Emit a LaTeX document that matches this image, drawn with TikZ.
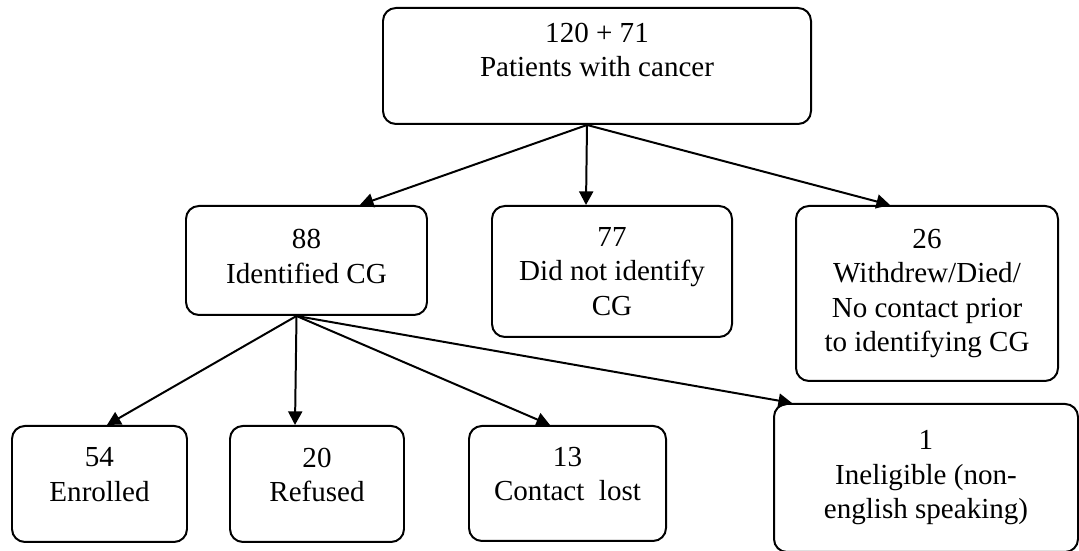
\documentclass[tikz,border=0pt]{standalone}
\usepackage{fontspec}
\setmainfont{Liberation Serif}
\usepackage{tikz}
\usetikzlibrary{shapes,positioning,arrows.meta}

\begin{document}
\begin{tikzpicture}[font=\fontsize{12.4}{14.7}\selectfont,line width=0.85pt,
    >={Triangle[length=5.8pt,width=6pt]},
    box/.style={draw, rounded corners=5.5pt, align=center}]

\useasboundingbox (0,0) rectangle (16.185,-8.265);

\node[box,
    minimum width=6.42cm,
    minimum height=1.74cm,
    text depth=14pt
] (block1) at (8.955,-0.99) { 120 + 71\\Patients with cancer };

\node[box,
    below=1.2cm of block1,
    xshift=-4.3575cm,
    minimum width=3.615cm,
    minimum height=1.635cm,
    text depth=3.5pt
] (block2) { 88\\Identified CG };

\node[box,
    below=1.2cm of block1,
    xshift=0.225cm,
    minimum width=3.6cm,
    minimum height=1.965cm
] (block2N) { 77\\Did not identify\\CG };

\node[box,
    below=1.2cm of block1,
    xshift=4.95cm,
    minimum width=3.93cm,
    minimum height=2.625cm
] (block2W) { 26\\Withdrew/Died/\\No contact prior\\to identifying CG };

\node[box,
    below=1.635cm of block2,
    xshift=-3.105cm,
    minimum width=2.625cm,
    minimum height=1.74cm,
    text depth=8pt
] (block3E) { 54\\Enrolled };

\node[box,
    below=1.635cm of block2,
    xshift=0.1575cm,
    minimum width=2.61cm,
    minimum height=1.74cm,
    text depth=8pt
] (block3R) { 20\\Refused };

\node[box,
    below=1.635cm of block2,
    xshift=3.915cm,
    minimum width=2.955cm,
    minimum height=1.725cm,
    text depth=8pt
] (block3C) { 13\\Contact\ \ lost };

\node[box,
    below=1.305cm of block2,
    xshift=9.2925cm,
    minimum width=4.56cm,
    minimum height=2.22cm
] (block3I) { 1\\Ineligible (non-\\english speaking) };

\draw[->] ([xshift=-0.15cm]block1.south) -- ([xshift=0.8cm]block2.north);
\draw[->] ([xshift=-0.15cm]block1.south) -- ([xshift=-0.39cm]block2N.north);
\draw[->] ([xshift=-0.15cm]block1.south) -- ([xshift=-0.555cm]block2W.north);

\draw[->] ([xshift=-0.15cm]block2.south) -- ([xshift=0.1125cm]block3E.north);
\draw[->] ([xshift=-0.15cm]block2.south) -- ([xshift=-0.33cm]block3R.north);
\draw[->] ([xshift=-0.15cm]block2.south) -- ([xshift=-0.2625cm]block3C.north);
\draw[->] ([xshift=-0.15cm]block2.south) -- ([xshift=-2.01cm]block3I.north);

\end{tikzpicture}
\end{document}
